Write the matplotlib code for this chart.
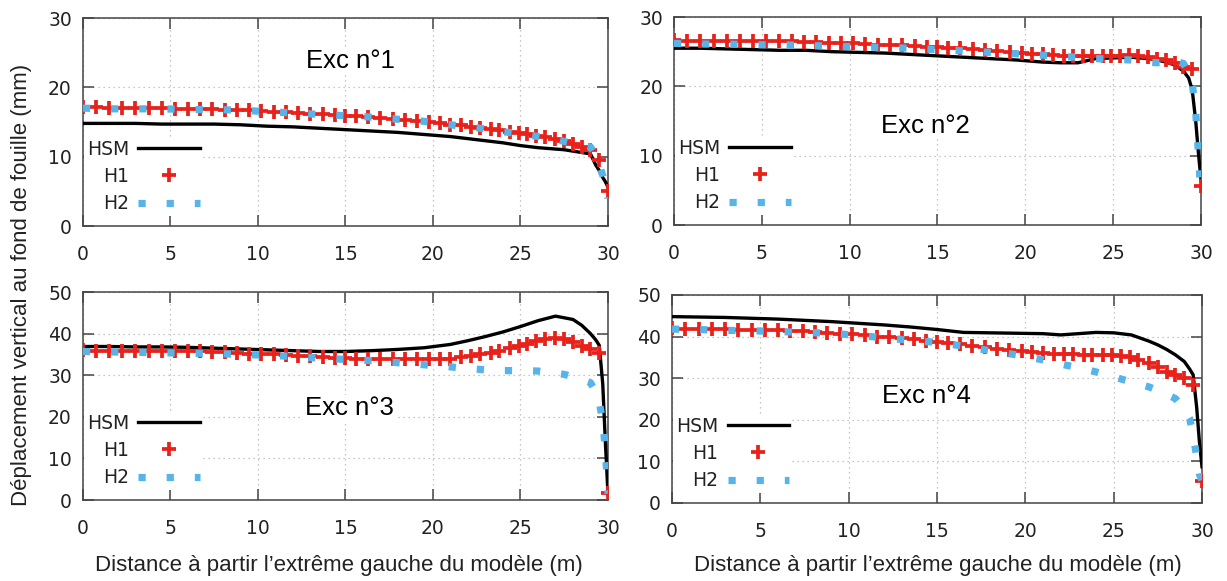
import matplotlib
matplotlib.use("Agg")
import matplotlib.pyplot as plt

# mesh positions (m)
x_h1 = [0, 0.75, 1.5, 2.25, 3.0, 3.75, 4.5, 5.25, 6.0, 6.7, 7.4, 8.1, 8.8, 9.5,
        10.2, 10.9, 11.6, 12.3, 13.0, 13.7, 14.4, 15.0, 15.6, 16.3, 17.0, 17.7,
        18.4, 19.1, 19.8, 20.4, 21.0, 21.6, 22.2, 22.7, 23.3, 23.8, 24.4, 24.9,
        25.4, 25.9, 26.4, 27.0, 27.5, 28.0, 28.5, 29.0, 29.5, 30.0]
x_line = [0, 1.5, 3, 4.5, 6, 7.5, 9, 10.5, 12, 13.5, 15, 16.5, 18, 19.5, 21, 22,
          23, 24, 25, 26, 27, 27.5, 28, 28.5, 29, 29.3, 29.5, 29.7, 29.85, 30]

# Exc n°1
hsm_1 = [14.8, 14.8, 14.8, 14.7, 14.7, 14.7, 14.6, 14.4, 14.3, 14.1, 13.9, 13.7,
         13.5, 13.2, 12.9, 12.6, 12.3, 12.0, 11.6, 11.3, 11.1, 11.0, 10.8, 10.6,
         10.4, 8.8, 8.0, 7.0, 6.4, 5.6]
h1_1 = [17.1, 17.1, 17.0, 17.0, 17.0, 17.0, 17.0, 16.9, 16.9, 16.9, 16.9, 16.8,
        16.8, 16.7, 16.6, 16.5, 16.4, 16.3, 16.2, 16.1, 16.0, 15.9, 15.8, 15.7,
        15.6, 15.5, 15.3, 15.2, 15.0, 14.8, 14.6, 14.5, 14.3, 14.2, 14.0, 13.8,
        13.6, 13.4, 13.2, 13.0, 12.8, 12.5, 12.2, 11.8, 11.4, 10.9, 9.5, 5.0]
h2_1 = [17.0, 16.9, 16.9, 16.9, 16.8, 16.8, 16.7, 16.5, 16.3, 16.1, 15.9, 15.7,
        15.4, 15.1, 14.6, 14.3, 14.0, 13.6, 13.3, 12.9, 12.5, 12.2, 11.9, 11.6,
        11.4, 10.2, 8.8, 7.3, 5.8, 4.0]

# Exc n°2
hsm_2 = [25.5, 25.5, 25.4, 25.3, 25.2, 25.2, 25.0, 24.9, 24.8, 24.6, 24.4, 24.2,
         24.0, 23.8, 23.5, 23.4, 23.4, 24.0, 24.1, 24.2, 24.0, 23.8, 23.5, 23.1,
         22.2, 21.2, 19.5, 15.0, 10.5, 6.5]
h1_2 = [26.7, 26.6, 26.6, 26.6, 26.6, 26.6, 26.6, 26.6, 26.5, 26.5, 26.4, 26.4,
        26.3, 26.3, 26.2, 26.1, 26.0, 25.9, 25.9, 25.8, 25.7, 25.7, 25.6, 25.5,
        25.4, 25.2, 25.1, 25.0, 24.8, 24.7, 24.6, 24.5, 24.4, 24.4, 24.4, 24.4,
        24.4, 24.4, 24.4, 24.5, 24.4, 24.2, 24.0, 23.8, 23.4, 22.8, 22.5, 5.7]
h2_2 = [26.2, 26.1, 26.1, 26.0, 26.0, 25.9, 25.8, 25.7, 25.6, 25.5, 25.3, 25.1,
        24.9, 24.7, 24.5, 24.3, 24.2, 24.0, 23.9, 23.8, 23.5, 23.4, 23.5, 23.7,
        23.3, 22.0, 20.5, 16.3, 10.5, 4.1]

# Exc n°3
hsm_3 = [36.9, 36.9, 36.8, 36.8, 36.7, 36.5, 36.3, 36.1, 35.9, 35.7, 35.7, 35.9,
         36.2, 36.6, 37.4, 38.3, 39.3, 40.4, 41.7, 43.1, 44.2, 43.8, 43.4, 42.0,
         40.0, 38.5, 37.2, 28.0, 14.0, 1.5]
h1_3 = [36.0, 35.9, 35.9, 35.9, 35.9, 35.9, 35.9, 35.9, 35.8, 35.7, 35.6, 35.5,
        35.4, 35.2, 35.1, 35.0, 34.8, 34.7, 34.5, 34.4, 34.2, 34.1, 34.0, 33.9,
        33.8, 33.8, 33.8, 33.8, 33.8, 33.8, 33.9, 34.3, 34.7, 35.0, 35.4, 35.9,
        36.5, 37.1, 37.6, 38.2, 38.6, 38.9, 38.6, 37.9, 37.0, 36.2, 35.4, 1.6]
h2_3 = [35.7, 35.6, 35.5, 35.4, 35.3, 35.2, 35.0, 34.8, 34.5, 34.1, 33.8, 33.5,
        33.0, 32.5, 32.0, 31.6, 31.3, 31.1, 31.1, 31.0, 30.5, 30.2, 29.6, 29.0,
        28.2, 26.0, 23.5, 19.0, 12.0, 1.5]

# Exc n°4
hsm_4 = [44.8, 44.7, 44.6, 44.4, 44.2, 43.9, 43.6, 43.2, 42.8, 42.3, 41.7, 41.0,
         40.9, 40.8, 40.7, 40.4, 40.7, 41.0, 40.9, 40.4, 38.9, 38.0, 36.9, 35.6,
         34.0, 32.2, 30.8, 23.0, 15.0, 8.7]
h1_4 = [42.0, 41.9, 41.9, 41.8, 41.8, 41.7, 41.6, 41.6, 41.5, 41.4, 41.3, 41.1,
        40.9, 40.7, 40.5, 40.3, 40.0, 39.8, 39.6, 39.3, 39.0, 38.7, 38.4, 38.1,
        37.7, 37.4, 37.1, 36.8, 36.5, 36.3, 36.1, 35.9, 35.8, 35.7, 35.6, 35.6,
        35.6, 35.6, 35.4, 35.0, 34.4, 33.6, 32.6, 31.6, 30.8, 30.0, 28.4, 5.3]
h2_4 = [41.8, 41.7, 41.5, 41.4, 41.2, 41.0, 40.8, 40.3, 39.7, 39.1, 38.6, 37.7,
        36.6, 35.6, 34.4, 33.4, 32.5, 31.5, 30.3, 29.1, 27.9, 27.1, 26.1, 25.1,
        22.5, 20.3, 16.5, 11.0, 7.0, 5.3]

titles = ["Exc n°1", "Exc n°2", "Exc n°3", "Exc n°4"]
title_pos = [(15.3, 23.8), (14.3, 14.3), (15.2, 22.1), (14.4, 25.7)]
ymax = [30, 30, 50, 50]
hsm = [hsm_1, hsm_2, hsm_3, hsm_4]
h1 = [h1_1, h1_2, h1_3, h1_4]
h2 = [h2_1, h2_2, h2_3, h2_4]

xlabel = "Distance à partir l’extrême gauche du modèle (m)"
ylabel = "Déplacement vertical au fond de fouille (mm)"

# axes boxes in figure fraction (left, bottom, width, height)
boxes = [(0.0676, 0.6110, 0.4279, 0.3580),
         (0.5493, 0.6127, 0.4295, 0.3580),
         (0.0676, 0.1394, 0.4279, 0.3580),
         (0.5477, 0.1343, 0.4319, 0.3580)]

plt.rcParams["font.family"] = "DejaVu Sans"

fig = plt.figure(figsize=(12.27, 5.81), dpi=100)

for i in range(4):
    ax = fig.add_axes(boxes[i])
    ax.plot(x_line, hsm[i], color="black", lw=2.4, label="HSM", zorder=3)
    ax.plot(x_h1, h1[i], ls="none", marker="+", ms=9.5, mew=2.7,
            color="#e8221b", label="H1", zorder=4)
    ax.plot(x_line, h2[i], color="#56b4e9", lw=5.2, dashes=(1.0, 2.9),
            dash_capstyle="butt", label="H2", zorder=5)

    ax.set_xlim(0, 30)
    ax.set_ylim(0, ymax[i])
    ax.set_xticks(range(0, 31, 5))
    ax.set_yticks(range(0, ymax[i] + 1, 10))
    ax.tick_params(direction="in", length=8, width=1.1, top=True, right=True,
                   labelsize=13.5, labelcolor="#222222", color="#444444")
    ax.tick_params(axis="x", pad=14)
    ax.tick_params(axis="y", pad=8)
    for s in ax.spines.values():
        s.set_color("#444444")
        s.set_linewidth(1.1)
    ax.grid(True, ls=(0, (1, 3)), color="#b5b5b5", lw=0.9)
    ax.set_axisbelow(True)

    ax.text(title_pos[i][0], title_pos[i][1], titles[i], fontsize=18.5,
            family="Liberation Sans", ha="center", va="center", zorder=6,
            bbox=dict(facecolor="white", edgecolor="none", pad=1))

    leg = ax.legend(loc="lower left", bbox_to_anchor=(0.002, 0.047),
                    borderaxespad=0, borderpad=0.15, markerfirst=False,
                    handlelength=3.3, handletextpad=0.5, labelspacing=0.45,
                    fontsize=13.5, frameon=True, fancybox=False,
                    facecolor="white", edgecolor="none", framealpha=1)
    for t in leg.get_texts():
        t.set_color("#222222")

fig.text(22 / 1227, 1 - 285 / 581, ylabel, rotation=90, ha="center",
         va="center", fontsize=16, family="Liberation Sans", color="#222222")
fig.text(339 / 1227, 1 - 566 / 581, xlabel, ha="center", va="center",
         fontsize=16, family="Liberation Sans", color="#222222")
fig.text(938 / 1227, 1 - 566 / 581, xlabel, ha="center", va="center",
         fontsize=16, family="Liberation Sans", color="#222222")

fig.savefig("out.png", dpi=100)
